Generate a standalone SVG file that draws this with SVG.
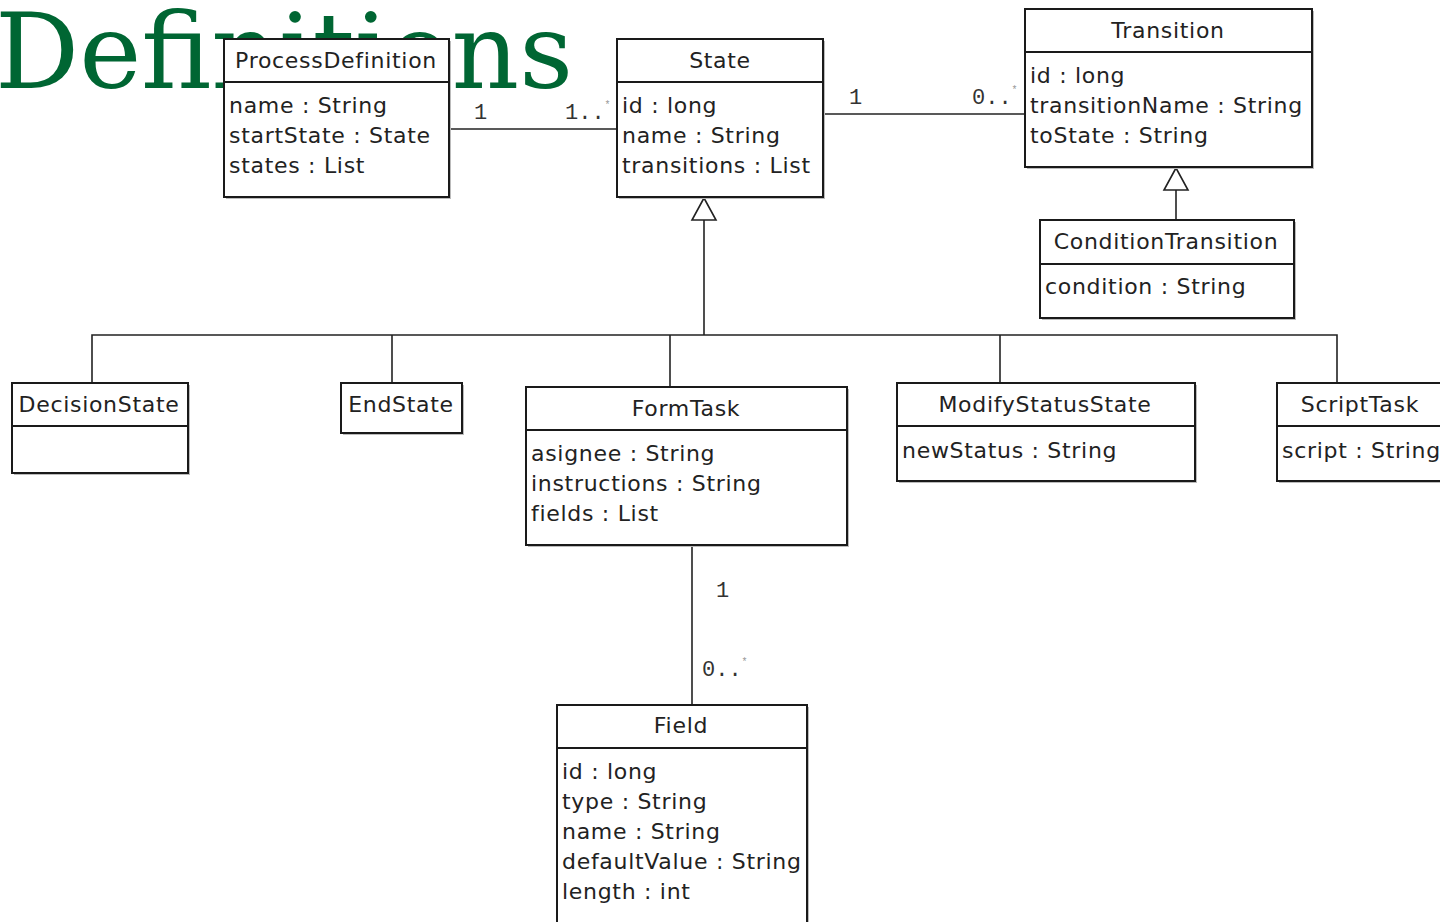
<svg xmlns="http://www.w3.org/2000/svg" width="1440" height="922" viewBox="0 0 1440 922">
<style>
.box{fill:#fff;stroke:#1a1a1a;stroke-width:2}
.shd{fill:#bbb}
.sep{stroke:#1a1a1a;stroke-width:2}
.t{font-family:"DejaVu Sans",sans-serif;font-size:22px;fill:#222;letter-spacing:0.7px}
.c{text-anchor:middle}
.ln{stroke:#222;stroke-width:1.6;fill:none}
.m{font-family:"Liberation Mono",monospace;font-size:22px;fill:#333}
.star{font-size:10px;fill:#999}
.title{font-family:"DejaVu Serif",serif;font-size:105px;fill:#006633}
</style>
<text class="title" x="-5" y="88">Definitions</text>
<g id="connectors">
<line class="ln" x1="449" y1="129" x2="617" y2="129"/>
<text class="m" x="474" y="119">1</text>
<text class="m" x="565" y="119">1..<tspan class="star" dy="-11">*</tspan></text>
<line class="ln" x1="823" y1="114" x2="1025" y2="114"/>
<text class="m" x="849" y="104">1</text>
<text class="m" x="972" y="104">0..<tspan class="star" dy="-11">*</tspan></text>
<polyline class="ln" points="704,220 704,335"/>
<polyline class="ln" points="92,383 92,335 1337,335 1337,383"/>
<line class="ln" x1="392" y1="335" x2="392" y2="383"/>
<line class="ln" x1="670" y1="335" x2="670" y2="387"/>
<line class="ln" x1="1000" y1="335" x2="1000" y2="383"/>
<polygon points="704,198 692,220 716,220" fill="#fff" stroke="#222" stroke-width="1.6"/>
<line class="ln" x1="1176" y1="190" x2="1176" y2="220"/>
<polygon points="1176,168 1164,190 1188,190" fill="#fff" stroke="#222" stroke-width="1.6"/>
<line class="ln" x1="692" y1="545" x2="692" y2="705"/>
<text class="m" x="716" y="597">1</text>
<text class="m" x="702" y="676">0..<tspan class="star" dy="-11">*</tspan></text>
</g>
<g id="ProcessDefinition">
<rect class="shd" x="226" y="41" width="225" height="158"/>
<rect class="box" x="224" y="39" width="225" height="158"/>
<line class="sep" x1="224" y1="82" x2="449" y2="82"/>
<text class="t c" x="336" y="68">ProcessDefinition</text>
<text class="t" x="229" y="113">name : String</text>
<text class="t" x="229" y="143">startState : State</text>
<text class="t" x="229" y="173">states : List</text>
</g>
<g id="State">
<rect class="shd" x="619" y="41" width="206" height="158"/>
<rect class="box" x="617" y="39" width="206" height="158"/>
<line class="sep" x1="617" y1="82" x2="823" y2="82"/>
<text class="t c" x="720" y="68">State</text>
<text class="t" x="622" y="113">id : long</text>
<text class="t" x="622" y="143">name : String</text>
<text class="t" x="622" y="173">transitions : List</text>
</g>
<g id="Transition">
<rect class="shd" x="1027" y="11" width="287" height="158"/>
<rect class="box" x="1025" y="9" width="287" height="158"/>
<line class="sep" x1="1025" y1="52" x2="1312" y2="52"/>
<text class="t c" x="1168" y="38">Transition</text>
<text class="t" x="1030" y="83">id : long</text>
<text class="t" x="1030" y="113">transitionName : String</text>
<text class="t" x="1030" y="143">toState : String</text>
</g>
<g id="ConditionTransition">
<rect class="shd" x="1042" y="222" width="254" height="98"/>
<rect class="box" x="1040" y="220" width="254" height="98"/>
<line class="sep" x1="1040" y1="264" x2="1294" y2="264"/>
<text class="t c" x="1166" y="249">ConditionTransition</text>
<text class="t" x="1045" y="294">condition : String</text>
</g>
<g id="DecisionState">
<rect class="shd" x="14" y="385" width="176" height="90"/>
<rect class="box" x="12" y="383" width="176" height="90"/>
<line class="sep" x1="12" y1="426" x2="188" y2="426"/>
<text class="t c" x="99" y="412">DecisionState</text>
</g>
<g id="EndState">
<rect class="shd" x="343" y="385" width="121" height="50"/>
<rect class="box" x="341" y="383" width="121" height="50"/>
<text class="t c" x="401" y="412">EndState</text>
</g>
<g id="FormTask">
<rect class="shd" x="528" y="389" width="321" height="158"/>
<rect class="box" x="526" y="387" width="321" height="158"/>
<line class="sep" x1="526" y1="430" x2="847" y2="430"/>
<text class="t c" x="686" y="416">FormTask</text>
<text class="t" x="531" y="461">asignee : String</text>
<text class="t" x="531" y="491">instructions : String</text>
<text class="t" x="531" y="521">fields : List</text>
</g>
<g id="ModifyStatusState">
<rect class="shd" x="899" y="385" width="298" height="98"/>
<rect class="box" x="897" y="383" width="298" height="98"/>
<line class="sep" x1="897" y1="426" x2="1195" y2="426"/>
<text class="t c" x="1045" y="412">ModifyStatusState</text>
<text class="t" x="902" y="458">newStatus : String</text>
</g>
<g id="ScriptTask">
<rect class="shd" x="1279" y="385" width="170" height="98"/>
<rect class="box" x="1277" y="383" width="170" height="98"/>
<line class="sep" x1="1277" y1="426" x2="1447" y2="426"/>
<text class="t c" x="1360" y="412">ScriptTask</text>
<text class="t" x="1282" y="458">script : String</text>
</g>
<g id="Field">
<rect class="shd" x="559" y="707" width="250" height="230"/>
<rect class="box" x="557" y="705" width="250" height="230"/>
<line class="sep" x1="557" y1="748" x2="807" y2="748"/>
<text class="t c" x="681" y="733">Field</text>
<text class="t" x="562" y="779">id : long</text>
<text class="t" x="562" y="809">type : String</text>
<text class="t" x="562" y="839">name : String</text>
<text class="t" x="562" y="869">defaultValue : String</text>
<text class="t" x="562" y="899">length : int</text>
</g>
</svg>
